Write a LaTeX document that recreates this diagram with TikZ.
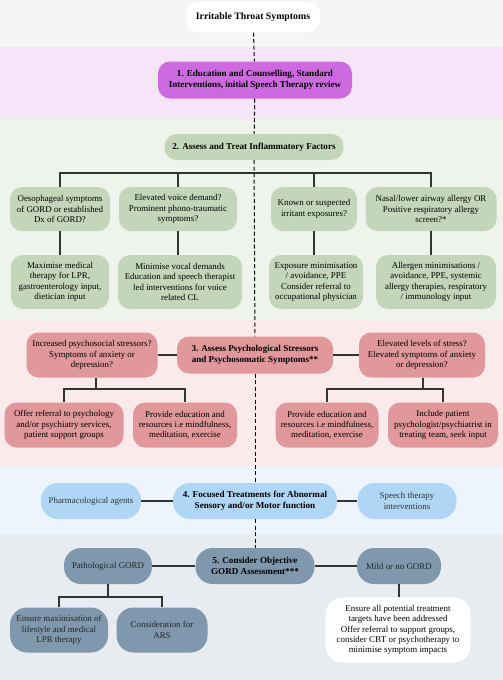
\documentclass[tikz,border=0pt]{standalone}
\usepackage{fontspec}
\setmainfont{Liberation Serif}
\definecolor{bandgrey}{HTML}{F5F5F5}
\definecolor{bandlilac}{HTML}{F6E5F8}
\definecolor{bandsage}{HTML}{EEF3EC}
\definecolor{bandrose}{HTML}{FBEAEB}
\definecolor{bandsky}{HTML}{EEF4FB}
\definecolor{bandslate}{HTML}{E8EBEF}
\definecolor{lilac}{HTML}{CD6ADF}
\definecolor{sage}{HTML}{C3D6B9}
\definecolor{rose}{HTML}{E0989B}
\definecolor{sky}{HTML}{AFD6F5}
\definecolor{slate}{HTML}{7F98AD}
\definecolor{linkgrey}{HTML}{333333}
\tikzset{
  box/.style={rounded corners=12pt, align=center, inner sep=1pt,
    font=\fontsize{8.9}{10.3}\selectfont},
  stepbox/.style={box, font=\bfseries\fontsize{9.1}{10.6}\selectfont},
  sagebox/.style={box, fill=sage},
  rosebox/.style={box, fill=rose},
  skybox/.style={box, fill=sky, rounded corners=17pt, text=black!80},
  slatebox/.style={box, fill=slate, rounded corners=17pt, text=black!85},
  link/.style={draw=linkgrey, line width=1.2pt},
  spine/.style={draw=black, line width=1pt, dash pattern=on 4pt off 2.5pt},
}
\begin{document}
\begin{tikzpicture}[x=1pt, y=-1pt]
    \useasboundingbox (0,0) rectangle (503,680);
    % bands
    \fill[bandgrey] (0,0) rectangle (503,47);
    \fill[bandlilac] (0,47) rectangle (503,119);
    \fill[bandsage] (0,119) rectangle (503,320);
    \fill[bandrose] (0,320) rectangle (503,466);
    \fill[bandsky] (0,466) rectangle (503,534);
    \fill[bandslate] (0,534) rectangle (503,680);

    % main steps
    \node[stepbox, font=\bfseries\fontsize{9.8}{11}\selectfont, fill=white, rounded corners=15pt, minimum width=135, minimum height=31] (top) at (253,17) {Irritable Throat Symptoms};
    \node[stepbox, fill=lilac, minimum width=194, minimum height=37] (step1) at (255,80) {1. Education and Counselling, Standard\\Interventions, initial Speech Therapy review};
    \node[stepbox, fill=sage, minimum width=179, minimum height=26] (step2) at (254,147) {2. Assess and Treat Inflammatory Factors};
    \node[stepbox, fill=rose, minimum width=156, minimum height=37] (step3) at (255,355) {3. Assess Psychological Stressors\\and Psychosomatic Symptoms**};
    \node[stepbox, fill=sky, rounded corners=17pt, minimum width=164, minimum height=36] (step4) at (255,501) {4. Focused Treatments for Abnormal\\Sensory and/or Motor function};
    \node[stepbox, fill=slate, rounded corners=17pt, minimum width=119, minimum height=36] (step5) at (255,566) {5. Consider Objective\\GORD Assessment***};

    % inflammatory factors
    \node[sagebox, minimum width=100, minimum height=44] (gord) at (60,209) {Oesophageal symptoms\\of GORD or established\\Dx of GORD?};
    \node[sagebox, minimum width=118, minimum height=44] (voice) at (178,209) {Elevated voice demand?\\Prominent phono-traumatic\\symptoms?};
    \node[sagebox, minimum width=86, minimum height=44] (irritant) at (314,209) {Known or suspected\\irritant exposures?};
    \node[sagebox, minimum width=131, minimum height=44] (allergy) at (431,209) {Nasal/lower airway allergy OR\\Positive respiratory allergy\\screen?*};
    \node[sagebox, minimum width=98, minimum height=54] (gordtx) at (60,282) {Maximise medical\\therapy for LPR,\\gastroenterology input,\\dietician input};
    \node[sagebox, minimum width=124, minimum height=54] (voicetx) at (180,282) {Minimise vocal demands\\Education and speech therapist\\led interventions for voice\\related CL};
    \node[sagebox, minimum width=94, minimum height=54] (irritanttx) at (316,282) {Exposure minimisation\\/ avoidance, PPE\\Consider referral to\\occupational physician};
    \node[sagebox, minimum width=120, minimum height=54] (allergytx) at (436,282) {Allergen minimisations /\\avoidance, PPE, systemic\\allergy therapies, respiratory\\/ immunology input};

    % psychological stressors
    \node[rosebox, minimum width=131, minimum height=45] (psyq) at (92,355) {Increased psychosocial stressors?\\Symptoms of anxiety or\\depression?};
    \node[rosebox, minimum width=126, minimum height=45] (stressq) at (422,355) {Elevated levels of stress?\\Elevated symptoms of anxiety\\or depression?};
    \node[rosebox, minimum width=119, minimum height=45] (referral) at (64,425) {Offer referral to psychology\\and/or psychiatry services,\\patient support groups};
    \node[rosebox, minimum width=104, minimum height=45] (educl) at (185,425) {Provide education and\\resources i.e mindfulness,\\meditation, exercise};
    \node[rosebox, minimum width=103, minimum height=45] (educr) at (327,425) {Provide education and\\resources i.e mindfulness,\\meditation, exercise};
    \node[rosebox, minimum width=110, minimum height=45] (team) at (443,425) {Include patient\\psychologist/psychiatrist in\\treating team, seek input};

    % focused treatments
    \node[skybox, minimum width=100, minimum height=36] (pharm) at (91,501) {Pharmacological agents};
    \node[skybox, minimum width=99, minimum height=36] (speech) at (407,501) {Speech therapy\\interventions};

    % GORD assessment
    \node[slatebox, minimum width=88, minimum height=36] (pathgord) at (108,566) {Pathological GORD};
    \node[slatebox, minimum width=84, minimum height=36] (mildgord) at (399,566) {Mild or no GORD};
    \node[slatebox, minimum width=98, minimum height=45] (lifestyle) at (59,630) {Ensure maximisation of\\lifestyle and medical\\LPR therapy};
    \node[slatebox, minimum width=91, minimum height=45] (ars) at (162,630) {Consideration for\\ARS};
    \node[box, fill=white, rounded corners=17pt, minimum width=145, minimum height=65] (targets) at (398,630) {Ensure all potential treatment\\targets have been addressed\\Offer referral to support groups,\\consider CBT or psychotherapy to\\minimise symptom impacts};

    % spine
    \draw[spine] (top) -- (step1);
    \draw[spine] (step1) -- (step2);
    \draw[spine] (step2) -- (step3);
    \draw[spine] (step3) -- (step4);
    \draw[spine] (step4) -- (step5);

    % links, step 2
    \coordinate (bus2) at (0,173);
    \draw[link] (gord.north) |- (bus2 -| allergy.north) -- (allergy.north);
    \draw[link] (voice.north) -- (voice.north |- bus2);
    \draw[link] (irritant.north) -- (irritant.north |- bus2);
    \draw[link] (gord) -- (gord |- gordtx.north);
    \draw[link] (voice) -- (voice |- voicetx.north);
    \draw[link] (irritant) -- (irritant |- irritanttx.north);
    \draw[link] (allergy) -- (allergy |- allergytx.north);

    % links, step 3
    \draw[link] (psyq) -- (step3);
    \draw[link] (step3) -- (stressq);
    \coordinate (bus3l) at (96,389);
    \coordinate (bus3r) at (423,389);
    \draw[link] (psyq.south -| bus3l) -- (bus3l);
    \draw[link] (referral.north) |- (bus3l) -| (educl.north);
    \draw[link] (stressq.south -| bus3r) -- (bus3r);
    \draw[link] (educr.north) |- (bus3r) -| (team.north);

    % links, step 4
    \draw[link] (pharm) -- (step4);
    \draw[link] (step4) -- (speech);

    % links, step 5
    \draw[link] (pathgord) -- (step5);
    \draw[link] (step5) -- (mildgord);
    \coordinate (bus5) at (108,597);
    \draw[link] (pathgord) -- (bus5);
    \draw[link] (lifestyle.north) |- (bus5) -| (ars.north);
    \draw[link] (mildgord) -- (mildgord |- targets.north);
\end{tikzpicture}
\end{document}
